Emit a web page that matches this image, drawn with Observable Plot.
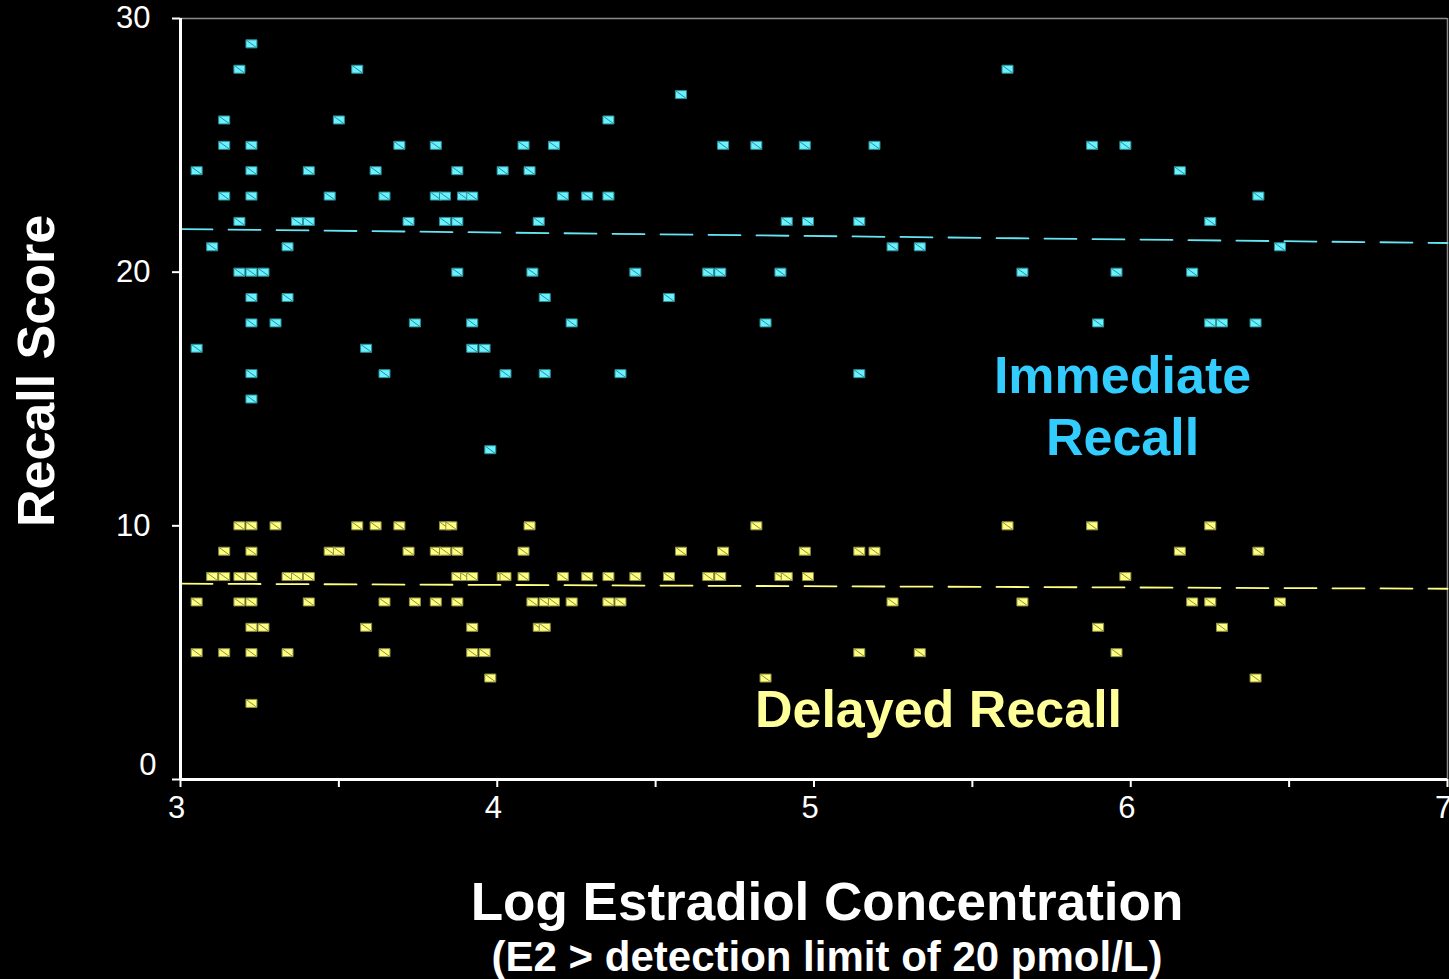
<!DOCTYPE html>
<html>
<head>
<meta charset="utf-8">
<script src="https://cdn.jsdelivr.net/npm/d3@7"></script>
<script src="https://cdn.jsdelivr.net/npm/@observablehq/plot@0.6"></script>
<style>
  html, body { margin: 0; padding: 0; background: #000; overflow: hidden; }
  #chart svg { display: block; }
</style>
</head>
<body>
<div id="chart"></div>
<script>
// ---- Axes ----
const xDomain = [3, 7];
const yDomain = [0, 30];
const xTicks = [3, 3.5, 4, 4.5, 5, 5.5, 6, 6.5, 7];
const xTickLabels = [3, 4, 5, 6, 7];
const yTicks = [0, 10, 20, 30];

// ---- Immediate recall: score -> log E2 values ----
const immScores = [29, 28, 27, 26, 25, 24, 23, 22, 21, 20, 19, 18, 17, 16, 15, 13];
const immLogE2 = [
  [3.224],
  [3.186, 3.558, 5.611],
  [4.580],
  [3.138, 3.500, 4.351],
  [3.138, 3.224, 3.691, 3.806, 4.083, 4.179, 4.713, 4.818, 4.971, 5.191, 5.878, 5.983],
  [3.051, 3.224, 3.405, 3.616, 3.874, 4.017, 4.102, 6.155],
  [3.138, 3.224, 3.471, 3.644, 3.806, 3.835, 3.892, 3.921, 4.207, 4.284, 4.351, 6.403],
  [3.186, 3.368, 3.405, 3.720, 3.835, 3.874, 4.131, 4.914, 4.981, 5.143, 6.251],
  [3.100, 3.338, 5.248, 5.334, 6.471],
  [3.186, 3.224, 3.262, 3.874, 4.111, 4.436, 4.666, 4.704, 4.894, 5.658, 5.955, 6.194],
  [3.224, 3.338, 4.150, 4.542],
  [3.224, 3.300, 3.740, 3.921, 4.235, 4.847, 5.897, 6.251, 6.288, 6.394],
  [3.051, 3.586, 3.921, 3.960],
  [3.224, 3.644, 4.026, 4.150, 4.389, 5.143],
  [3.224],
  [3.978]
];

// ---- Delayed recall: score -> log E2 values ----
const delScores = [10, 9, 8, 7, 6, 5, 4, 3];
const delLogE2 = [
  [3.186, 3.224, 3.300, 3.558, 3.616, 3.691, 3.835, 3.855, 4.102, 4.818, 5.611, 5.878, 6.251],
  [3.138, 3.224, 3.471, 3.500, 3.720, 3.806, 3.835, 3.874, 4.083, 4.580, 4.713, 4.971, 5.143, 5.191, 6.155, 6.403],
  [3.100, 3.138, 3.186, 3.224, 3.338, 3.368, 3.405, 3.874, 3.902, 3.921, 4.017, 4.026, 4.083, 4.207, 4.284, 4.351, 4.436, 4.542, 4.666, 4.704, 4.894, 4.914, 4.981, 5.983],
  [3.051, 3.186, 3.224, 3.405, 3.644, 3.740, 3.806, 3.874, 4.111, 4.150, 4.179, 4.235, 4.351, 4.389, 5.248, 5.658, 6.194, 6.251, 6.471],
  [3.224, 3.262, 3.586, 3.921, 4.131, 4.150, 5.897, 6.288],
  [3.051, 3.138, 3.224, 3.338, 3.644, 3.921, 3.960, 5.143, 5.334, 5.955],
  [3.978, 4.847, 6.394],
  [3.224]
];

// ---- Trend lines ----
const trendX = [3, 7];
const immTrend = [21.7, 21.15];
const delTrend = [7.72, 7.52];

// ---- Series labels ----
const seriesLabels = ["Immediate\nRecall", "Delayed Recall"];
const seriesLabelX = [5.974, 5.393];
const seriesLabelY = [14.8, 2.84];

// ---- Titles ----
const xTitle = "Log Estradiol Concentration";
const xSubtitle = "(E2 > detection limit of 20 pmol/L)";
const yTitle = "Recall Score";

// ---- build tables ----
const flatten = (scores, xs) => scores.flatMap((s, i) => xs[i].map(x => ({x, y: s})));
const immData = flatten(immScores, immLogE2);
const delData = flatten(delScores, delLogE2);
const immTrendData = trendX.map((x, i) => ({x, y: immTrend[i]}));
const delTrendData = trendX.map((x, i) => ({x, y: delTrend[i]}));
const labelData = seriesLabels.map((t, i) => ({t, x: seriesLabelX[i], y: seriesLabelY[i]}));

// rectangular marker with a diagonal stroke
const rectSymbol = {
  draw(ctx) {
    const w = 5.5, h = 4;
    ctx.moveTo(-w, -h); ctx.lineTo(w, -h); ctx.lineTo(w, h); ctx.lineTo(-w, h); ctx.closePath();
    ctx.moveTo(-w, -h); ctx.lineTo(w, h);
  }
};

const FONT = "'Liberation Sans', Arial, Helvetica, sans-serif";

const chart = Plot.plot({
  width: 1449,
  height: 979,
  marginLeft: 180,
  marginRight: 2,
  marginTop: 18,
  marginBottom: 200,
  style: {background: "#000", color: "#fff", fontFamily: FONT, overflow: "visible"},
  x: {domain: xDomain},
  y: {domain: yDomain},
  marks: [
    // frame
    Plot.ruleY([30], {stroke: "#8a8a8a", strokeWidth: 1.5}),
    Plot.ruleX([7], {stroke: "#8a8a8a", strokeWidth: 1.5}),
    // trend lines
    Plot.line(immTrendData, {x: "x", y: "y", stroke: "#66e6f5", strokeWidth: 1.8, strokeDasharray: "32,16"}),
    Plot.line(delTrendData, {x: "x", y: "y", stroke: "#ffff80", strokeWidth: 1.8, strokeDasharray: "32,16"}),
    // points
    Plot.dot(immData, {x: "x", y: "y", symbol: rectSymbol, fill: "#6af2ff", stroke: "#2b8f99", strokeWidth: 1}),
    Plot.dot(delData, {x: "x", y: "y", symbol: rectSymbol, fill: "#ffff80", stroke: "#8f8f45", strokeWidth: 1}),
    // axes
    Plot.axisX({ticks: xTicks, tickSize: 8, tickFormat: () => "", stroke: "#fff", strokeWidth: 2, label: null}),
    Plot.axisX({ticks: xTickLabels, tickSize: 0, tickPadding: 16, fontSize: 31, fill: "#fff", dx: -4,
      tickFormat: d => String(d), label: null}),
    Plot.axisY({ticks: yTicks, tickSize: 8, tickPadding: 22, fontSize: 31, fill: "#fff", stroke: "#fff", strokeWidth: 2,
      tickFormat: d => d === 0 ? "" : String(d), label: null}),
    Plot.axisY({ticks: [0], tickSize: 0, tickPadding: 24, fontSize: 31, fill: "#fff", dy: -14,
      tickFormat: d => String(d), label: null}),
    Plot.ruleX([3], {stroke: "#fff", strokeWidth: 3}),
    Plot.ruleY([0], {stroke: "#fff", strokeWidth: 3}),
    // series labels
    Plot.text(labelData, {x: "x", y: "y", text: "t", fontSize: 52, fontWeight: "bold", lineHeight: 1.2,
      fill: (d) => d.t.startsWith("Immediate") ? "#33ccff" : "#ffff99"}),
    // titles
    Plot.text([xTitle], {frameAnchor: "bottom", lineAnchor: "middle", textAnchor: "middle", dx: 13, dy: 124,
      fontSize: 53, fontWeight: "bold", fill: "#fff"}),
    Plot.text([xSubtitle], {frameAnchor: "bottom", lineAnchor: "middle", textAnchor: "middle", dx: 13, dy: 178,
      fontSize: 42, fontWeight: "bold", fill: "#fff"}),
    Plot.text([yTitle], {frameAnchor: "left", lineAnchor: "middle", textAnchor: "middle", rotate: -90, dx: -143, dy: -28,
      fontSize: 52, fontWeight: "bold", fill: "#fff"})
  ]
});

document.getElementById("chart").appendChild(chart);
</script>
</body>
</html>
